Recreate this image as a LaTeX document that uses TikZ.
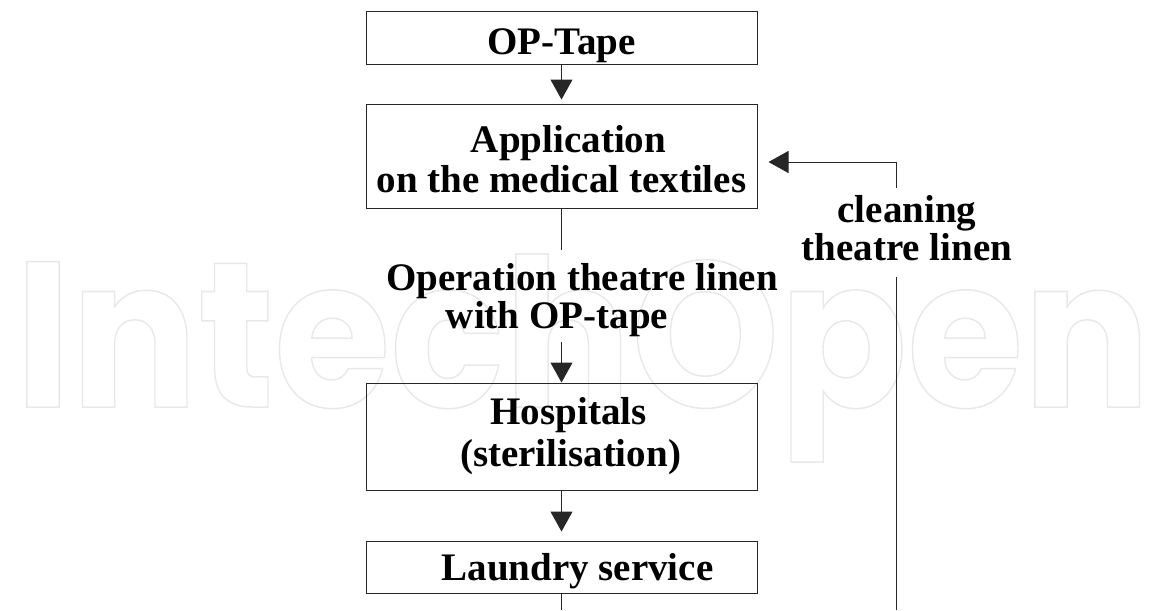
\documentclass[tikz,border=0pt]{standalone}
\usepackage{fontspec}
\usepackage{graphicx}
\setmainfont{Liberation Serif}
\newfontfamily\wmfont{Poppins}
\usetikzlibrary{arrows.meta}
\begin{document}
\begin{tikzpicture}[x=1pt,y=-1pt,
  box/.style={draw=black!85, line width=1pt, minimum width=391pt, align=center,
    inner sep=0pt, font=\bfseries\fontsize{39}{39}\selectfont},
  lbl/.style={align=center, inner sep=0pt, font=\bfseries\fontsize{39}{38}\selectfont},
  conn/.style={draw=black!85, line width=1pt},
  arr/.style={conn, -{Triangle[length=20pt,width=22pt]}}]
\useasboundingbox (0,0) rectangle (1150,610);
% watermark
\begin{scope}
\node[anchor=base west, inner sep=0pt, text=black!9, font=\wmfont\bfseries\fontsize{207}{207}\selectfont] (wm) at (15,407)
  {\special{pdf:literal 1 Tr 1.5 w}\resizebox{1135pt}{\height}{IntechOpen}\special{pdf:literal 0 Tr}};
\end{scope}
% boxes
\node[box, anchor=base, text height=43pt, text depth=9pt] (tape) at (561.5,55) {OP-Tape};
\node[box, minimum height=104pt] (app) at (561.5,156) {\rule{0pt}{34pt}\hspace*{14pt}Application\\[1pt]on the medical textiles};
\node[lbl] (optext) at (582,300) {Operation theatre linen\\with OP-tape\hspace*{50pt}};
\node[box, minimum height=107pt] (hosp) at (561.5,436.5) {\hspace*{14pt}Hospitals\\[3pt]\hspace*{18pt}(sterilisation)};
\node[box, anchor=base, text height=39pt, text depth=13pt] (laund) at (561.5,580) {\hspace*{32pt}Laundry service};
\node[lbl] (clean) at (907,228) {cleaning\\theatre linen};
% coordinates
\coordinate (c1) at (561.5,250);
\coordinate (c2) at (561.5,342);
\coordinate (cb) at (561.5,610);
\coordinate (r0) at (896,610);
\coordinate (r1) at (896,277);
\coordinate (r2) at (896,188);
\coordinate (r3) at (896,162);
% connectors
\draw[arr, shorten >=4pt] (tape.south) -- (app.north);
\draw[conn] (app.south) -- (c1);
\draw[arr] (c2) -- (hosp.north);
\draw[arr, shorten >=9pt] (hosp.south) -- (laund.north);
\draw[conn] (laund.south) -- (cb);
\draw[conn] (r0) -- (r1);
\draw[arr, shorten >=11pt] (r2) -- (r3) -- (r3 -| app.east);
\end{tikzpicture}
\end{document}
